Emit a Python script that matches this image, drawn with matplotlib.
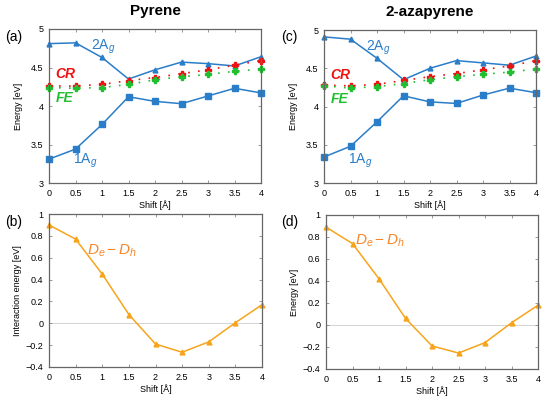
import matplotlib.pyplot as plt

plt.rcParams['font.family'] = ['Liberation Sans', 'DejaVu Sans']
plt.rcParams['font.size'] = 7
plt.rcParams['mathtext.fontset'] = 'custom'
plt.rcParams['mathtext.rm'] = 'Liberation Sans'
plt.rcParams['mathtext.it'] = 'Liberation Sans:italic'

# shift values (Angstrom)
shift = [0, 0.5, 1, 1.5, 2, 2.5, 3, 3.5, 4]

# pyrene
pyr_2ag = [4.81, 4.82, 4.63, 4.35, 4.47, 4.57, 4.55, 4.52, 4.64]
pyr_1ag = [3.31, 3.44, 3.76, 4.12, 4.06, 4.03, 4.13, 4.23, 4.17]
pyr_cr = [4.26, 4.26, 4.28, 4.33, 4.37, 4.42, 4.47, 4.53, 4.59]
pyr_fe = [4.24, 4.23, 4.24, 4.28, 4.34, 4.38, 4.41, 4.45, 4.48]
pyr_int = [0.90, 0.77, 0.45, 0.08, -0.19, -0.265, -0.17, 0.005, 0.17]

# 2-azapyrene
aza_2ag = [4.91, 4.88, 4.63, 4.35, 4.50, 4.60, 4.57, 4.54, 4.66]
aza_1ag = [3.34, 3.48, 3.80, 4.14, 4.06, 4.04, 4.15, 4.24, 4.18]
aza_cr = [4.28, 4.27, 4.29, 4.34, 4.39, 4.43, 4.48, 4.53, 4.60]
aza_fe = [4.27, 4.24, 4.26, 4.30, 4.35, 4.39, 4.42, 4.45, 4.49]
aza_int = [0.89, 0.74, 0.42, 0.06, -0.19, -0.255, -0.16, 0.02, 0.18]

blue = '#2a7dc9'
red = '#ee1111'
green = '#1fbf2f'
orange = '#f7a41d'
label_orange = '#f7862a'
spine_gray = '#666666'

fig = plt.figure(figsize=(5.5, 3.98), dpi=100)
W, H = 550, 398


def add_ax(x0, x1, ytop, ybot):
    return fig.add_axes([x0 / W, 1 - ybot / H, (x1 - x0) / W, (ybot - ytop) / H])


def style(ax):
    for s in ax.spines.values():
        s.set_color(spine_gray)
        s.set_linewidth(0.9)
    ax.tick_params(direction='in', length=2.5, width=0.6, color='#888888',
                   top=True, right=True, labelsize=6.5, pad=4)
    ax.set_xlim(0, 4)
    ax.set_xticks(shift)
    ax.set_xticklabels(['0', '0.5', '1', '1.5', '2', '2.5', '3', '3.5', '4'])
    ax.set_xlabel('Shift [Å]', fontsize=6.5, labelpad=2)


def top_panel(ax, e2, e1, cr, fe, lbl2, lbl1):
    style(ax)
    ax.plot(shift, e2, color=blue, lw=1.1, marker='^', ms=3.5, clip_on=False)
    ax.plot(shift, e1, color=blue, lw=1.1, marker='s', ms=4, clip_on=False)
    ax.plot(shift, cr, color=red, lw=1.2, ls=(0, (1, 5)), marker='P', ms=4.5, clip_on=False)
    ax.plot(shift, fe, color=green, lw=1.2, ls=(0, (1, 5)), marker='P', ms=4.5, clip_on=False)
    ax.set_ylim(3, 5)
    ax.set_yticks([3, 3.5, 4, 4.5, 5])
    ax.set_yticklabels(['3', '3.5', '4', '4.5', '5'])
    ax.set_ylabel('Energy [eV]', fontsize=6.5, labelpad=6)
    ax.text(lbl2[0], lbl2[1], r'2A$_g$', color=blue, fontsize=10)
    ax.text(lbl1[0], lbl1[1], r'1A$_g$', color=blue, fontsize=10)
    ax.text(0.12, 4.36, 'CR', color=red, fontsize=10, fontweight='bold', style='italic')
    ax.text(0.12, 4.05, 'FE', color=green, fontsize=10, fontweight='bold', style='italic')


def bottom_panel(ax, vals, ylabel, lbl):
    style(ax)
    ax.axhline(0, color='#cccccc', lw=0.6, zorder=0)
    ax.plot(shift, vals, color=orange, lw=1.1, marker='^', ms=3.5, clip_on=False)
    ax.set_ylim(-0.4, 1)
    ax.set_yticks([-0.4, -0.2, 0, 0.2, 0.4, 0.6, 0.8, 1])
    ax.set_yticklabels(['−0.4', '−0.2', '0', '0.2', '0.4', '0.6', '0.8', '1'])
    ax.set_ylabel(ylabel, fontsize=6.5, labelpad=3)
    ax.text(lbl[0], lbl[1], r'$D_e - D_h$', color=label_orange, fontsize=11)


ax_a = add_ax(49, 261, 29, 183)
top_panel(ax_a, pyr_2ag, pyr_1ag, pyr_cr, pyr_fe, (0.79, 4.73), (0.45, 3.25))
ax_a.set_title('Pyrene', fontsize=11, fontweight='bold', pad=10)

ax_c = add_ax(324, 536, 30, 183)
top_panel(ax_c, aza_2ag, aza_1ag, aza_cr, aza_fe, (0.79, 4.73), (0.45, 3.25))
ax_c.set_title('2-azapyrene', fontsize=11, fontweight='bold', pad=10)

ax_b = add_ax(49, 262, 214, 367)
bottom_panel(ax_b, pyr_int, 'Interaction energy [eV]', (0.71, 0.63))

ax_d = add_ax(326, 538, 215, 369)
bottom_panel(ax_d, aza_int, 'Energy [eV]', (0.55, 0.73))

for txt, x, y in [('(a)', 5, 37), ('(c)', 281, 37), ('(b)', 5, 222), ('(d)', 281, 222)]:
    fig.text(x / W, 1 - y / H, txt, fontsize=10, va='center', ha='left')

fig.savefig('out.png', dpi=100)
